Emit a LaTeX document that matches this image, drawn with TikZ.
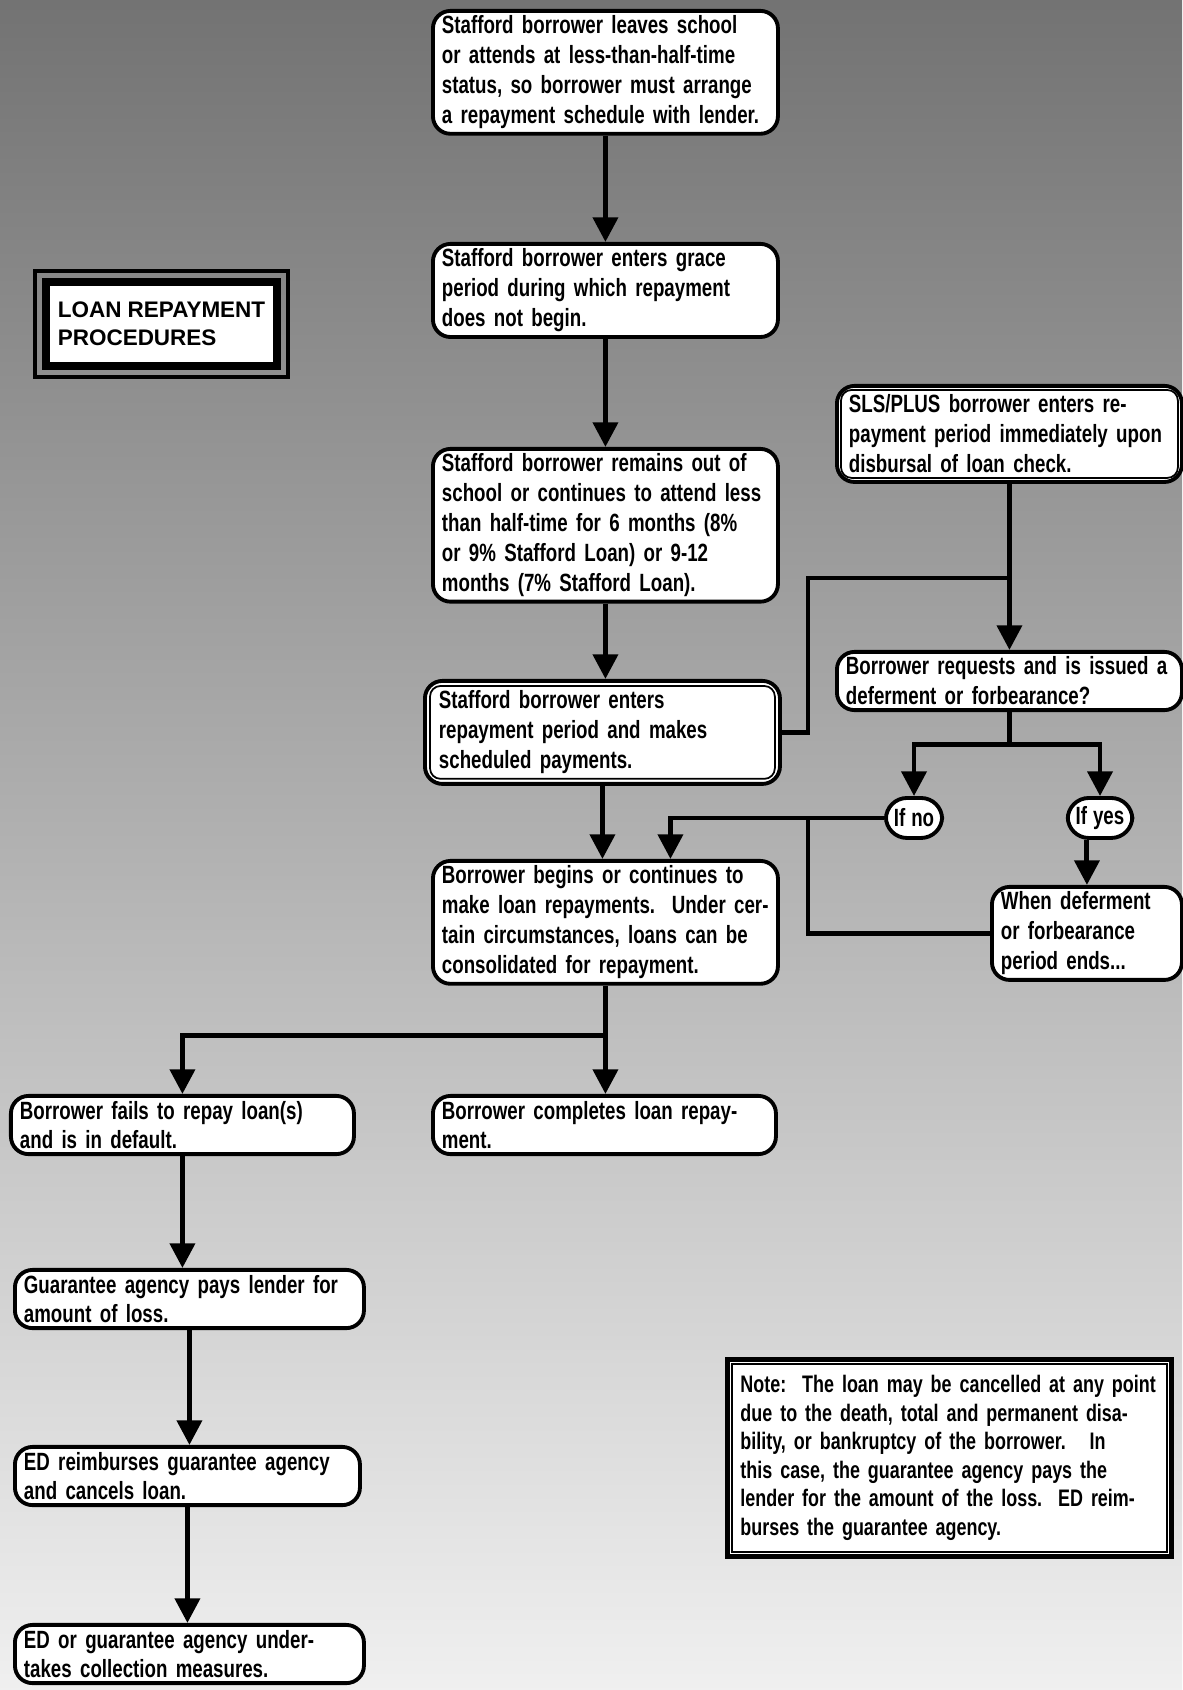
\documentclass[tikz,border=0pt]{standalone}
\usepackage{fontspec}
\setmainfont{Liberation Sans}[FakeStretch=0.75, WordSpace=0.6]
\newfontfamily\titlefont{Liberation Sans}
\usepackage{tikz}
\usetikzlibrary{positioning, arrows.meta, calc}

\tikzset{
    procbox/.style={draw, line width=1.1pt, rounded corners=5pt, fill=white,
        anchor=north west, align=left, inner xsep=0.09cm, inner ysep=0.05cm,
        text width=#1, font=\fontsize{7.1}{8.5}\selectfont\bfseries},
    choice/.style={draw, line width=1.1pt, rounded corners=6pt, fill=white,
        minimum height=0.4cm, inner xsep=0.08cm, inner ysep=0.02cm,
        font=\fontsize{7.1}{8.5}\selectfont\bfseries},
    titlebox/.style={draw, line width=2.3pt, fill=white, align=left,
        minimum width=2.31cm, minimum height=0.84cm,
        font=\fontsize{6.4}{8}\titlefont\bfseries},
    notebox/.style={draw, line width=1.4pt, fill=white, anchor=north west,
        align=left, inner xsep=0.13cm, inner ysep=0.16cm, text width=#1,
        font=\fontsize{6.8}{8.1}\selectfont\bfseries},
    conn/.style={line width=1.4pt},
    arr/.style={conn, -{Triangle[width=7pt,length=7pt]}}
}

\begin{document}
\begin{tikzpicture}

    % page and screened background
    \useasboundingbox (0,0) rectangle (11.82,16.90);
    \shade[top color=black!55, middle color=black!28, bottom color=black!6]
        (0,0) rectangle (11.82,16.90);

    % title panel
    \node[titlebox] (title) at (1.615,13.66) {LOAN REPAYMENT\\PROCEDURES};
    \draw[line width=1.3pt] ([shift={(-0.07,-0.07)}]title.south west)
        rectangle ([shift={(0.07,0.07)}]title.north east);

    % Stafford column
    \node[procbox=3.27cm] (leave) at (4.31,16.81)
        {Stafford borrower leaves school\\ or attends at less-than-half-time\\
         status, so borrower must arrange\\ a repayment schedule with lender.};
    \node[procbox=3.27cm] (grace) at (4.31,14.48)
        {Stafford borrower enters grace\\ period during which repayment\\ does not begin.};
    \node[procbox=3.27cm] (remain) at (4.31,12.43)
        {Stafford borrower remains out of\\ school or continues to attend less\\
         than half-time for 6 months (8\%\\ or 9\% Stafford Loan) or 9-12\\
         months (7\% Stafford Loan).};
    \node[procbox=3.27cm, inner xsep=0.14cm, inner ysep=0.1cm] (enter) at (4.23,10.11)
        {Stafford borrower enters\\ repayment period and makes\\ scheduled payments.};
    \draw[line width=0.5pt, rounded corners=3pt] ([shift={(0.07,0.07)}]enter.south west)
        rectangle ([shift={(-0.07,-0.07)}]enter.north east);
    \node[procbox=3.27cm] (begin) at (4.31,8.31)
        {Borrower begins or continues to\\ make loan repayments.\ \ Under cer-\\
         tain circumstances, loans can be\\ consolidated for repayment.};

    % SLS/PLUS column
    \node[procbox=3.21cm, inner xsep=0.12cm, inner ysep=0.09cm] (sls) at (8.35,13.06)
        {SLS/PLUS borrower enters re-\\ payment period immediately upon\\ disbursal of loan check.};
    \draw[line width=0.5pt, rounded corners=3pt] ([shift={(0.06,0.06)}]sls.south west)
        rectangle ([shift={(-0.06,-0.06)}]sls.north east);
    \node[procbox=3.27cm] (request) at (8.35,10.40)
        {Borrower requests and is issued a\\ deferment or forbearance?};
    \node[choice] (ifno) at (9.14,8.72) {If \hspace{0.8pt}no};
    \node[choice] (ifyes) at (11.00,8.72) {If \hspace{0.8pt}yes};
    \node[procbox=1.72cm] (ends) at (9.90,8.05)
        {When deferment\\ or forbearance\\ period ends...};

    % outcomes
    \node[procbox=3.25cm] (fails) at (0.09,5.96)
        {Borrower fails to repay loan(s)\\ and is in default.};
    \node[procbox=3.25cm] (complete) at (4.31,5.96)
        {Borrower completes loan repay-\\ ment.};
    \node[procbox=3.31cm] (guarantee) at (0.13,4.22)
        {Guarantee agency pays lender for\\ amount of loss.};
    \node[procbox=3.27cm] (reimburse) at (0.13,2.45)
        {ED reimburses guarantee agency\\ and cancels loan.};
    \node[procbox=3.31cm] (collect) at (0.13,0.67)
        {ED or guarantee agency under-\\ takes collection measures.};

    % note panel
    \node[notebox=4.18cm] (note) at (7.25,3.33)
        {Note:\ \ The loan may be cancelled at any point\\
         due to the death, total and permanent disa-\\
         bility, or bankruptcy of the borrower.\ \ \ In\\
         this case, the guarantee agency pays the\\
         lender for the amount of the loss.\ \ ED reim-\\
         burses the guarantee agency.};
    \draw[line width=0.5pt] ([shift={(0.07,0.07)}]note.south west)
        rectangle ([shift={(-0.07,-0.07)}]note.north east);

    % Stafford flow
    \draw[arr] (leave) -- (grace);
    \draw[arr] (grace) -- (remain);
    \draw[arr] (remain.south) -- (remain.south |- enter.north);
    \draw[arr] (enter.south) -- (enter.south |- begin.north);

    % SLS/PLUS flow and deferment loop
    \coordinate (slsjoin) at (8.08,11.12);
    \coordinate (endsjoin) at (8.08,8.72);
    \draw[arr] (sls) -- (request);
    \draw[conn] (slsjoin -| sls.south) -- (slsjoin) |- (enter.east);
    \path (request.south) ++(0,-0.32) coordinate (reqjoin);
    \draw[arr] (request.south) -- (reqjoin) -| (ifno.north);
    \draw[arr] (reqjoin) -| (ifyes.north);
    \draw[arr] (ends.north |- ifyes.south) -- (ends.north);
    \draw[arr] (ifno.west) -| ([xshift=0.65cm]begin.north);
    \draw[conn] (ends.west) -| (endsjoin);

    % repayment outcomes
    \path (begin.south) ++(0,-0.5) coordinate (begjoin);
    \draw[arr] (begin.south) -- (begjoin) -| (fails.north);
    \draw[arr] (begjoin) -- (begjoin |- complete.north);
    \draw[arr] (fails.south) -- (fails.south |- guarantee.north);
    \draw[arr] (guarantee.south) -- (guarantee.south |- reimburse.north);
    \draw[arr] (reimburse.south) -- (reimburse.south |- collect.north);

\end{tikzpicture}
\end{document}
